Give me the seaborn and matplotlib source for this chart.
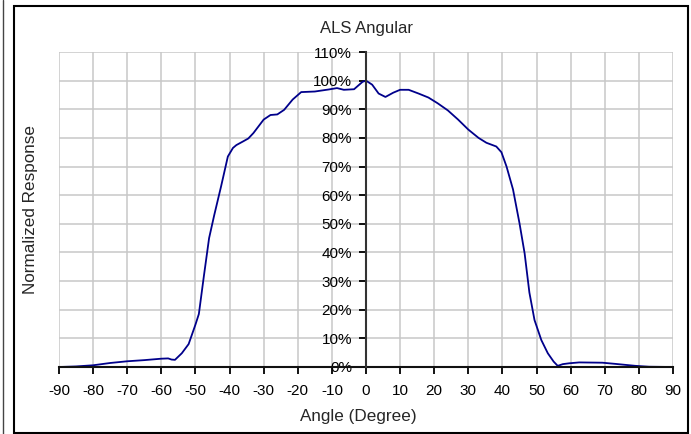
import matplotlib
matplotlib.use("Agg")
import matplotlib.pyplot as plt
import seaborn as sns
import pandas as pd
from matplotlib.patches import Rectangle
from matplotlib.lines import Line2D
from matplotlib.ticker import FuncFormatter, MultipleLocator

angles = [-90, -85, -80, -75, -70, -65, -60, -58, -57, -56, -54, -52, -50, -49,
          -48.5, -47.5, -46, -44.5, -42.5, -40.5, -39, -38, -36, -34.5, -33, -30,
          -28, -26, -24, -21.5, -19, -15, -11, -8.5, -6.5, -3.5, -1, 0, 1.8, 3.7,
          5.7, 8, 10, 12.5, 15.4, 18.3, 21, 24, 27, 30, 33, 35.3, 38.2, 39.7, 41.2,
          43.1, 45, 46.5, 47.9, 49.4, 51.4, 53.3, 55, 56.2, 57.7, 59.6, 62.5, 69.3,
          73, 79, 83, 90]
response = [0, 0.2, 0.6, 1.4, 2.0, 2.4, 2.9, 3.0, 2.6, 2.5, 4.8, 8.0, 14.8, 18.5,
            23, 32, 45, 53, 63, 73.5, 76.5, 77.5, 78.8, 79.8, 81.7, 86.4,
            88, 88.2, 89.8, 93.4, 96, 96.2, 96.9, 97.4, 96.8, 97, 99.6, 100, 98.6, 95.5,
            94.3, 95.8, 96.8, 96.8, 95.5, 94.1, 92.1, 89.6, 86.4, 82.9, 80, 78.3, 77, 75, 70,
            62, 50.2, 39.7, 26, 16.4, 9.4, 4.8, 1.9, 0.4, 1.0, 1.3, 1.6, 1.5,
            1.1, 0.4, 0.1, 0]

title = "ALS Angular"
xlabel = "Angle (Degree)"
ylabel = "Normalized Response"

sns.set_style("white")
plt.rcParams['font.family'] = ['Liberation Sans', 'DejaVu Sans']
plt.rcParams['axes.unicode_minus'] = False

W, H = 691, 434
fig = plt.figure(figsize=(W / 100, H / 100), dpi=100)
L, R, T, B = 59, 673, 52, 367
ax = fig.add_axes([L / W, 1 - B / H, (R - L) / W, (B - T) / H])

df = pd.DataFrame({"angle": angles, "response": response})
sns.lineplot(data=df, x="angle", y="response", ax=ax, color="#00008B",
             linewidth=1.3, sort=False)

ax.set_xlim(-90, 90)
ax.set_ylim(0, 110)
ax.xaxis.set_major_locator(MultipleLocator(10))
ax.yaxis.set_major_locator(MultipleLocator(10))
ax.yaxis.set_major_formatter(FuncFormatter(lambda v, p: f"{v:.0f}%"))
ax.grid(True, color="#c8c8c8", linewidth=1.1)
ax.set_axisbelow(True)

for s in ["top", "right"]:
    ax.spines[s].set_visible(False)
ax.spines["left"].set_position(("data", 0))
ax.spines["left"].set_color("#333333")
ax.spines["left"].set_linewidth(1.5)
ax.spines["left"].set_zorder(3)
ax.spines["bottom"].set_color("#111111")
ax.spines["bottom"].set_linewidth(1.5)

ax.tick_params(axis="both", labelsize=11, colors="black", direction="out",
               length=5, width=1.3)
ax.tick_params(axis="y", left=True, pad=5)
ax.tick_params(axis="x", bottom=True, pad=7)
ax.set_xlabel("")
ax.set_ylabel("")

fig.text(366 / W, 1 - 28 / H, title, ha="center", va="center", fontsize=12)
fig.text(358 / W, 1 - 417 / H, xlabel, ha="center", va="center", fontsize=12.3)
fig.text(31 / W, 1 - 209 / H, ylabel, ha="center", va="center", fontsize=12.3,
         rotation=90)

# outer chart frame
fig.patches.append(Rectangle((14 / W, 1 - 433 / H), (688 - 14) / W, (433 - 6) / H,
                             transform=fig.transFigure, fill=False,
                             edgecolor="black", linewidth=1.5))
fig.lines.append(Line2D([3 / W, 3 / W], [0, 1], transform=fig.transFigure,
                        color="#444444", linewidth=1))

fig.savefig("out.png", dpi=100)
